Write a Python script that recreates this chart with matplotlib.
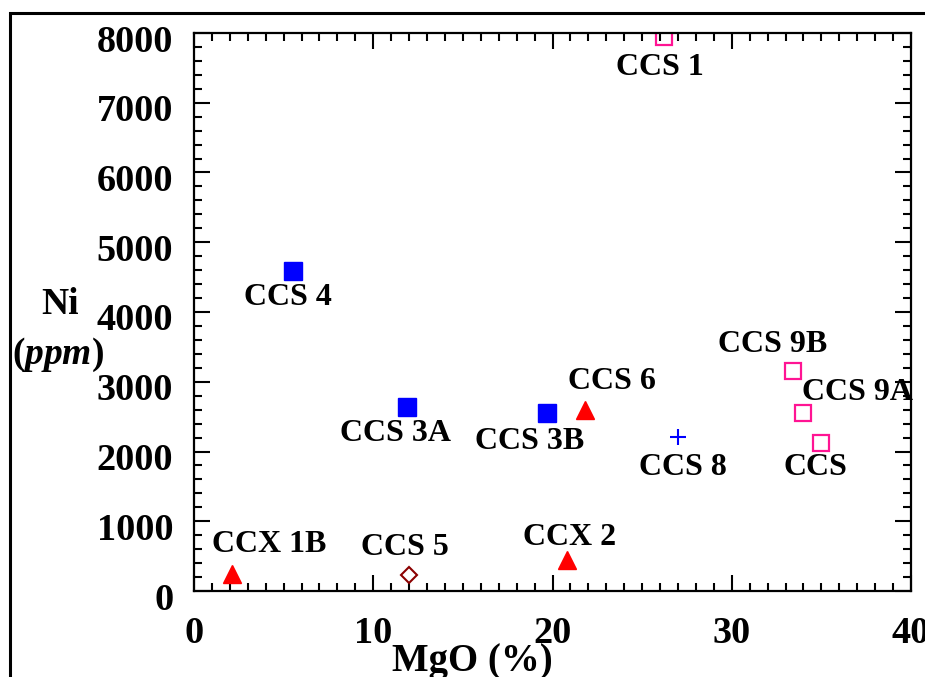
import matplotlib.pyplot as plt
import matplotlib.transforms as mtransforms
from matplotlib.patches import Rectangle
from matplotlib.ticker import MultipleLocator

plt.rcParams['font.family'] = ['Liberation Serif', 'DejaVu Serif']
plt.rcParams['font.weight'] = 'bold'
plt.rcParams['mathtext.fontset'] = 'custom'
plt.rcParams['mathtext.it'] = 'Liberation Serif:style=italic:weight=bold'
plt.rcParams['mathtext.rm'] = 'Liberation Serif:weight=bold'

# blue filled squares
sq_names = ['CCS 4', 'CCS 3A', 'CCS 3B']
sq_mgo = [5.5, 11.9, 19.7]
sq_ni = [4590, 2640, 2555]

# red triangles
tri_names = ['CCX 1B', 'CCS 6', 'CCX 2']
tri_mgo = [2.1, 21.8, 20.8]
tri_ni = [245, 2595, 445]

# pink open squares
open_names = ['CCS 1', 'CCS 9B', 'CCS 9A', 'CCS']
open_mgo = [26.2, 33.4, 34.0, 35.0]
open_ni = [7945, 3155, 2555, 2125]

# single samples
dia_names = ['CCS 5']
dia_mgo = [12.0]
dia_ni = [230]

plus_names = ['CCS 8']
plus_mgo = [27.0]
plus_ni = [2210]

# label offsets in pixels from the marker
label_off = {
    'CCS 1': (-4, -31), 'CCS 9B': (-20, 26), 'CCS 9A': (54, 20), 'CCS': (-6, -25),
    'CCS 8': (5, -31), 'CCS 4': (-5, -27), 'CCS 3A': (-12, -27), 'CCS 3B': (-17, -29),
    'CCS 6': (27, 28), 'CCX 1B': (38, 29), 'CCS 5': (-4, 27), 'CCX 2': (3, 22),
}

fig = plt.figure(figsize=(9.25, 6.77), dpi=100)
ax = fig.add_axes([194 / 925, 1 - 591 / 677, 717 / 925, 558 / 677])

ax.plot(sq_mgo, sq_ni, 's', color='#0000FF', markersize=13, linestyle='none')
ax.plot(tri_mgo, tri_ni, '^', color='#FF0000', markersize=12.5, linestyle='none')
ax.plot(open_mgo, open_ni, 's', mfc='none', mec='#FF1493', mew=1.6, markersize=12, linestyle='none')
ax.plot(dia_mgo, dia_ni, 'D', mfc='none', mec='#8B0000', mew=1.5, markersize=8, linestyle='none')
ax.plot(plus_mgo, plus_ni, '+', color='#0000FF', mew=1.5, markersize=11, linestyle='none')

for names, xs, ys in [(sq_names, sq_mgo, sq_ni), (tri_names, tri_mgo, tri_ni),
                      (open_names, open_mgo, open_ni), (dia_names, dia_mgo, dia_ni),
                      (plus_names, plus_mgo, plus_ni)]:
    for n, x, y in zip(names, xs, ys):
        ax.annotate(n, (x, y), xytext=label_off[n], textcoords='offset pixels',
                    ha='center', va='center', fontsize=23, fontweight='bold')

ax.set_xlim(0, 40)
ax.set_ylim(0, 8000)
ax.xaxis.set_major_locator(MultipleLocator(10))
ax.xaxis.set_minor_locator(MultipleLocator(1))
ax.yaxis.set_major_locator(MultipleLocator(1000))
ax.yaxis.set_minor_locator(MultipleLocator(200))
ax.tick_params(which='both', direction='in', top=True, right=True, width=1.5)
ax.tick_params(which='major', length=11.5)
ax.tick_params(which='minor', length=6)
ax.tick_params(axis='x', which='major', labelsize=27.5, pad=18)
ax.tick_params(axis='y', which='major', labelsize=27.5, pad=15)
down = mtransforms.ScaledTranslation(0, -5 / 100, fig.dpi_scale_trans)
for lab in ax.get_yticklabels():
    lab.set_transform(lab.get_transform() + down)
for lab in ax.get_xticklabels() + ax.get_yticklabels():
    lab.set_fontweight('bold')
for s in ax.spines.values():
    s.set_linewidth(1.6)

fig.text(472 / 925, 1 - 661 / 677, 'MgO (%)', ha='center', va='center', fontsize=28, fontweight='bold')
fig.text(60 / 925, 1 - 305 / 677, 'Ni', ha='center', va='center', fontsize=27, fontweight='bold')
fig.text(58 / 925, 1 - 355 / 677, '($\\mathit{ppm}$)', ha='center', va='center', fontsize=27, fontweight='bold')

fig.add_artist(Rectangle((10 / 925, -0.2), 1.5, 1.2 - 13 / 677, transform=fig.transFigure,
                         fill=False, lw=2.2, edgecolor='black'))

fig.savefig('out.png', dpi=100)
